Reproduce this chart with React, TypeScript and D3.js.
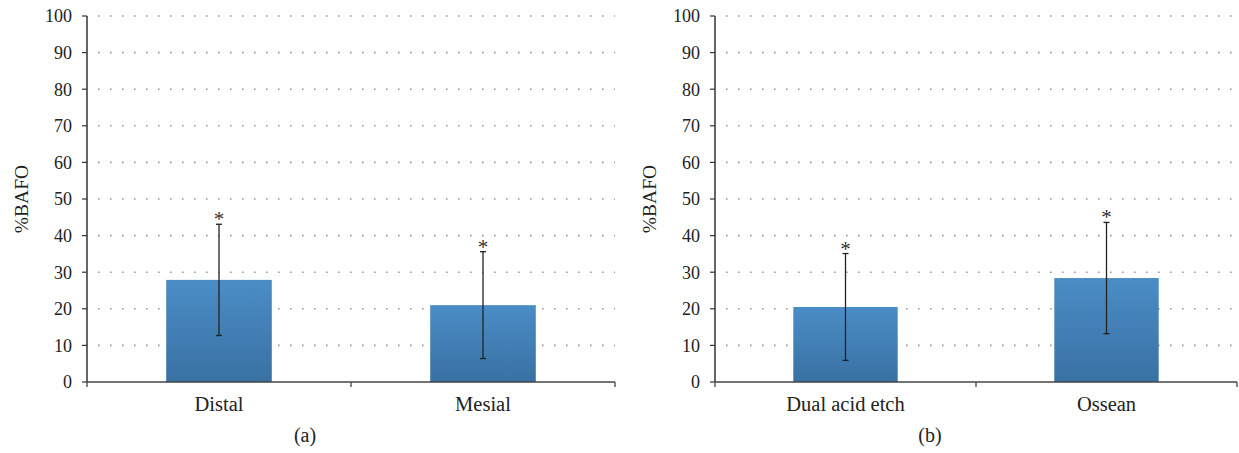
import React from "react";
import * as d3 from "d3";

const panelACategories = ["Distal", "Mesial"];
const panelAMeans = [27.9, 21.0];
const panelASD = [15.2, 14.6];

const panelBCategories = ["Dual acid etch", "Ossean"];
const panelBMeans = [20.5, 28.4];
const panelBSD = [14.6, 15.2];

const yTicks = [0, 10, 20, 30, 40, 50, 60, 70, 80, 90, 100];
const yLabel = "%BAFO";
const panelTitles = ["(a)", "(b)"];

const FONT = "'Liberation Serif', 'DejaVu Serif', serif";

type PanelProps = {
  id: string;
  x0: number;
  x1: number;
  cats: string[];
  means: number[];
  sds: number[];
  title: string;
};

function Panel({ id, x0, x1, cats, means, sds, title }: PanelProps) {
  const y = d3.scaleLinear().domain([0, 100]).range([382, 16]);
  const x = d3.scaleBand().domain(cats).range([x0, x1]).paddingInner(0.6).paddingOuter(0.3);
  const band = d3.scaleBand().domain(cats).range([x0, x1]);
  const gradId = `grad-${id}`;
  return (
    <g>
      <defs>
        <linearGradient id={gradId} x1="0" y1="0" x2="0" y2="1">
          <stop offset="0%" stopColor="#4A8DC6" />
          <stop offset="100%" stopColor="#3971A3" />
        </linearGradient>
      </defs>
      {yTicks.filter((t) => t > 0).map((t) => (
        <line
          key={t}
          x1={x0 + 11}
          x2={x1}
          y1={y(t)}
          y2={y(t)}
          stroke="#9a9a9a"
          strokeWidth={1.6}
          strokeDasharray="1.6 10.4"
        />
      ))}
      {cats.map((c, i) => (
        <rect
          key={c}
          x={x(c)}
          width={x.bandwidth()}
          y={y(means[i])}
          height={y(0) - y(means[i])}
          fill={`url(#${gradId})`}
        />
      ))}
      {cats.map((c, i) => {
        const cx = (x(c) as number) + x.bandwidth() / 2;
        const top = y(means[i] + sds[i]);
        const bot = y(means[i] - sds[i]);
        return (
          <g key={c} stroke="#222" strokeWidth={1.3}>
            <line x1={cx} x2={cx} y1={top} y2={bot} />
            <line x1={cx - 3} x2={cx + 3} y1={top} y2={top} />
            <line x1={cx - 3} x2={cx + 3} y1={bot} y2={bot} />
            <text
              x={cx}
              y={top + 2}
              textAnchor="middle"
              fontFamily={FONT}
              fontSize={21}
              fill="#333"
              stroke="none"
            >
              *
            </text>
          </g>
        );
      })}
      <line x1={x0} x2={x0} y1={y(100)} y2={y(0)} stroke="#333" strokeWidth={1.5} />
      {yTicks.map((t) => (
        <g key={t}>
          <line x1={x0 - 5} x2={x0} y1={y(t)} y2={y(t)} stroke="#333" strokeWidth={1.2} />
          <text
            x={x0 - 15}
            y={y(t)}
            dy="0.35em"
            textAnchor="end"
            fontFamily={FONT}
            fontSize={18}
            fill="#222"
          >
            {t}
          </text>
        </g>
      ))}
      <line x1={x0} x2={x1} y1={y(0)} y2={y(0)} stroke="#444" strokeWidth={1.6} />
      {[x0, ...cats.slice(1).map((c) => band(c) as number), x1].map((tx, i) => (
        <line key={i} x1={tx} x2={tx} y1={y(0)} y2={y(0) + 5} stroke="#444" strokeWidth={1.3} />
      ))}
      {cats.map((c) => (
        <text
          key={c}
          x={(band(c) as number) + band.bandwidth() / 2}
          y={411}
          textAnchor="middle"
          fontFamily={FONT}
          fontSize={20.5}
          fill="#222"
        >
          {c}
        </text>
      ))}
      <text
        transform={`translate(${x0 - 66},${y(50)}) rotate(-90)`}
        textAnchor="middle"
        dy="0.35em"
        fontFamily={FONT}
        fontSize={19.5}
        fill="#222"
      >
        {yLabel}
      </text>
      <text
        x={(x0 - 92 + x1) / 2}
        y={442}
        textAnchor="middle"
        fontFamily={FONT}
        fontSize={20}
        fill="#222"
      >
        {title}
      </text>
    </g>
  );
}

export default function App() {
  return (
    <svg
      width={1239}
      height={453}
      style={{ position: "absolute", left: 0, top: 0, background: "#fff" }}
    >
      <Panel id="a" x0={87} x1={615} cats={panelACategories} means={panelAMeans} sds={panelASD} title={panelTitles[0]} />
      <Panel id="b" x0={715} x1={1237} cats={panelBCategories} means={panelBMeans} sds={panelBSD} title={panelTitles[1]} />
    </svg>
  );
}
